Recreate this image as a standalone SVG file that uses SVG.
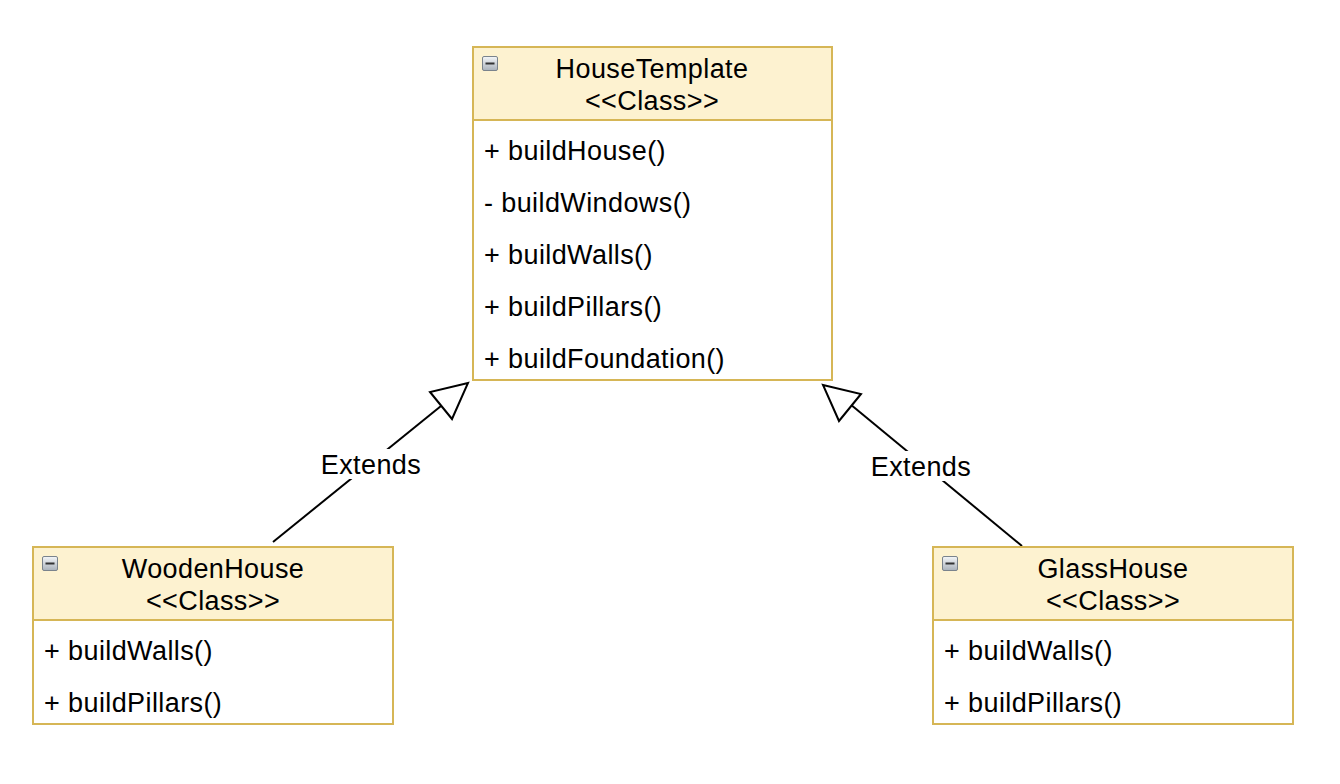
<svg xmlns="http://www.w3.org/2000/svg" width="1340" height="784" viewBox="0 0 1340 784">
<defs>
<style>
.hdr{fill:#fdf2d0;stroke:#d6b656;stroke-width:2}
.body{fill:#ffffff;stroke:#d6b656;stroke-width:2}
.t{font-family:"Liberation Sans",Arial,sans-serif;font-size:27px;letter-spacing:0.4px;fill:#000}
.c{text-anchor:middle}
.edge{stroke:#000;stroke-width:2;fill:none}
.tri{stroke:#000;stroke-width:2;fill:#fff;stroke-linejoin:miter}
.lbl{fill:#fff}
</style>
<linearGradient id="ig" x1="0" y1="0" x2="0" y2="1">
<stop offset="0" stop-color="#f4f6f8"/>
<stop offset="1" stop-color="#aab2bb"/>
</linearGradient>
<g id="icon">
<rect x="0.5" y="0.5" width="15" height="14" rx="1.5" fill="url(#ig)" stroke="#7a838c" stroke-width="1"/>
<rect x="3.5" y="6.5" width="9" height="2" fill="#333"/>
</g>
</defs>
<rect width="1340" height="784" fill="#fff"/>

<g id="connectors">
<line class="edge" x1="273" y1="542" x2="441" y2="406"/>
<polygon class="tri" points="468,383 430,392 452,419"/>
<rect class="lbl" x="318" y="449" width="106" height="30"/>
<text class="t c" x="371" y="474">Extends</text>
<line class="edge" x1="1022" y1="546" x2="850" y2="404"/>
<polygon class="tri" points="823,385 861,394 839,421"/>
<rect class="lbl" x="868" y="451" width="106" height="30"/>
<text class="t c" x="921" y="476">Extends</text>
</g>

<g id="HouseTemplate">
<rect class="body" x="473" y="47" width="359" height="333"/>
<rect class="hdr" x="473" y="47" width="359" height="73"/>
<use href="#icon" x="482" y="56"/>
<text class="t c" x="652" y="78">HouseTemplate</text>
<text class="t c" x="652" y="110">&lt;&lt;Class&gt;&gt;</text>
<text class="t" x="484" y="160">+ buildHouse()</text>
<text class="t" x="484" y="212">- buildWindows()</text>
<text class="t" x="484" y="264">+ buildWalls()</text>
<text class="t" x="484" y="316">+ buildPillars()</text>
<text class="t" x="484" y="368">+ buildFoundation()</text>
</g>

<g id="WoodenHouse">
<rect class="body" x="33" y="547" width="360" height="177"/>
<rect class="hdr" x="33" y="547" width="360" height="73"/>
<use href="#icon" x="42" y="556"/>
<text class="t c" x="213" y="578">WoodenHouse</text>
<text class="t c" x="213" y="610">&lt;&lt;Class&gt;&gt;</text>
<text class="t" x="44" y="660">+ buildWalls()</text>
<text class="t" x="44" y="712">+ buildPillars()</text>
</g>

<g id="GlassHouse">
<rect class="body" x="933" y="547" width="360" height="177"/>
<rect class="hdr" x="933" y="547" width="360" height="73"/>
<use href="#icon" x="942" y="556"/>
<text class="t c" x="1113" y="578">GlassHouse</text>
<text class="t c" x="1113" y="610">&lt;&lt;Class&gt;&gt;</text>
<text class="t" x="944" y="660">+ buildWalls()</text>
<text class="t" x="944" y="712">+ buildPillars()</text>
</g>
</svg>
